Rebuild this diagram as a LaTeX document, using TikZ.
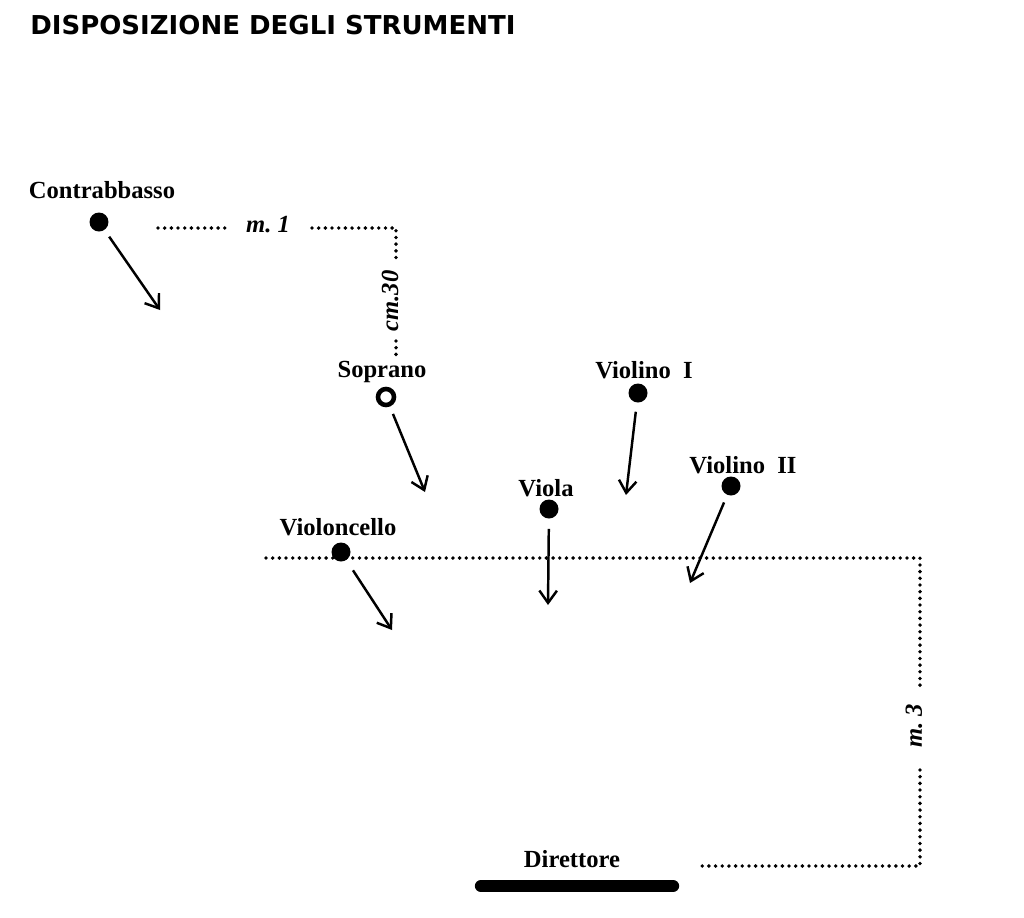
\documentclass[tikz,border=0pt]{standalone}
\usepackage{fontspec}
\setmainfont{Liberation Serif}
\newfontfamily\titlefont{DejaVu Sans}
\usetikzlibrary{arrows.meta}
\tikzset{
  lbl/.style={font=\fontsize{14}{16}\selectfont\bfseries, inner sep=0pt},
  meas/.style={font=\fontsize{14}{16}\selectfont\bfseries\itshape, inner sep=0pt},
  dot/.style={circle, fill=black, minimum size=0.38cm, inner sep=0pt},
  ring/.style={circle, draw=black, line width=2.6pt, minimum size=0.32cm, inner sep=0pt},
  arr/.style={line width=1.4pt, -{Straight Barb[length=7pt,width=10pt,line width=1.4pt]}},
  dots/.style={line width=2.2pt, line cap=round, dash pattern=on 0pt off 3.8pt},
  bar/.style={line width=7pt, line cap=round}
}
\begin{document}
\begin{tikzpicture}[x=0.02cm,y=-0.02cm]
\useasboundingbox (0,0) rectangle (1024,917);
% title
\node[font=\titlefont\fontsize{14.8}{16}\selectfont\bfseries, anchor=west, inner sep=0pt] (title) at (30,25) {DISPOSIZIONE DEGLI STRUMENTI};
% Contrabbasso
\node[lbl] (cbL) at (102,190) {Contrabbasso};
\node[dot] (cb) at (99,222) {};
\coordinate (cbE) at (160,310);
\draw[arr, shorten <=0.16cm] (cb) -- (cbE);
% m. 1 / cm.30
\coordinate (m1a) at (158,228);
\coordinate (m1b) at (226,228);
\node[meas] (m1) at (268,225) {m.~1};
\coordinate (m1c) at (312,228);
\coordinate (cor1) at (396,228);
\coordinate (cmtop) at (396,262);
\node[meas, rotate=90] (cm30) at (390,301) {cm.30};
\coordinate (cmb1) at (396,341);
\coordinate (cmb2) at (396,356);
\draw[dots] (m1a) -- (m1b);
\draw[dots] (m1c) -- (cor1) -- (cmtop);
\draw[dots] (cmb1) -- (cmb2);
% Soprano
\node[lbl] (spL) at (382,372) {Soprano};
\node[ring] (sp) at (386,397) {};
\coordinate (spE) at (425,492);
\draw[arr, shorten <=0.16cm] (sp) -- (spE);
% Violino I
\node[lbl] (v1L) at (644,370) {Violino\ \ I};
\node[dot] (v1) at (638,393) {};
\coordinate (v1E) at (626,495);
\draw[arr, shorten <=0.18cm] (v1) -- (v1E);
% Violino II
\node[lbl] (v2L) at (743,465) {Violino\ \ II};
\node[dot] (v2) at (731,486) {};
\coordinate (v2E) at (690,583);
\draw[arr, shorten <=0.16cm] (v2) -- (v2E);
% Viola
\node[lbl] (vaL) at (546,488) {Viola};
\node[dot] (va) at (549,509) {};
\coordinate (vaE) at (548,605);
\draw[arr, shorten <=0.2cm] (va) -- (vaE);
% big dotted line and m. 3
\coordinate (hL) at (266,558);
\coordinate (cor2) at (920,558);
\coordinate (m3a) at (920,690);
\node[meas, rotate=90] (m3) at (914,726) {m.~3};
\coordinate (m3b) at (920,770);
\coordinate (cor3) at (920,866);
\coordinate (dL) at (697,866);
\draw[dots] (hL) -- (cor2) -- (m3a);
\draw[dots] (m3b) -- (cor3) -- (dL);
% Violoncello
\node[lbl] (vcL) at (338,527) {Violoncello};
\node[dot] (vc) at (341,552) {};
\coordinate (vcE) at (392,630);
\draw[arr, shorten <=0.24cm] (vc) -- (vcE);
% Direttore
\node[lbl] (dir) at (572,859) {Direttore};
\coordinate (barL) at (481,886);
\coordinate (barR) at (673,886);
\draw[bar] (barL) -- (barR);
\end{tikzpicture}
\end{document}
